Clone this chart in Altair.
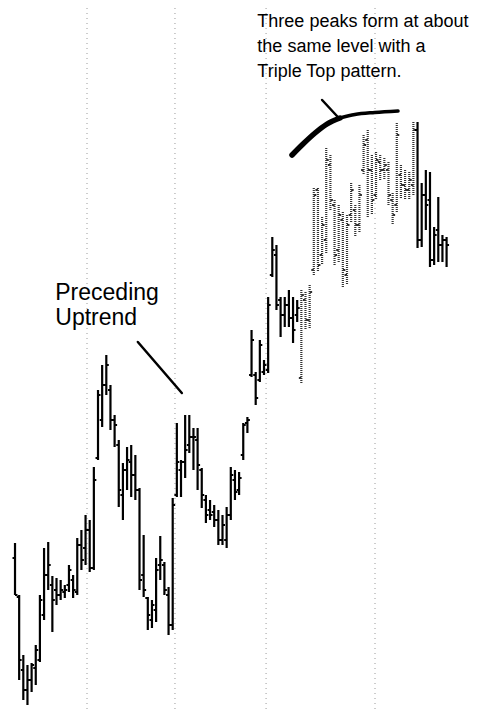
import altair as alt
import pandas as pd

# ---- OHLC values (one bar per trading day) ----
high = [17.7, 12.5, 6.5, 5.5, 5.7, 7.5, 12.5, 17.2, 17.8, 14.4,
        14.2, 14.0, 13.5, 15.5, 14.5, 18.2, 19.0, 20.5, 20.0, 25.3,
        33.0, 35.5, 36.5, 33.5, 30.5, 28.0, 25.7, 27.3, 27.5, 26.5,
        23.2, 18.5, 12.3, 12.0, 16.2, 18.4, 15.8, 13.3, 22.2, 29.7,
        26.0, 30.5, 30.5, 29.2, 29.2, 25.2, 22.5, 22.0, 21.5, 21.0,
        20.5, 21.3, 25.3, 25.0, 24.8, 29.7, 30.3, 39.0, 34.8, 38.0,
        36.0, 42.3, 48.3, 47.5, 42.3, 42.3, 43.0, 42.3, 42.0, 43.0,
        42.8, 43.5, 53.2, 53.2, 50.3, 57.2, 56.5, 52.0, 51.5, 50.8,
        50.5, 53.7, 51.5, 53.5, 58.5, 59.0, 56.5, 56.8, 56.5, 56.2,
        55.8, 52.7, 59.7, 55.5, 55.0, 54.8, 59.8, 59.8, 53.7, 55.0,
        54.8, 49.3, 52.3, 48.5, 48.3]
low = [12.5, 4.0, 2.0, 1.5, 2.8, 3.5, 5.8, 10.0, 13.0, 8.8,
       11.5, 12.0, 12.2, 12.8, 12.2, 12.5, 15.0, 15.5, 14.8, 15.0,
       26.0, 29.3, 32.5, 29.0, 27.3, 21.3, 20.0, 23.0, 22.3, 22.0,
       13.0, 12.3, 9.0, 9.2, 9.8, 14.0, 12.5, 8.5, 9.0, 22.3,
       22.3, 24.2, 26.7, 25.0, 23.0, 21.2, 19.7, 20.0, 19.3, 17.5,
       17.5, 17.2, 20.0, 22.0, 22.5, 26.0, 28.7, 34.3, 31.5, 33.8,
       34.5, 34.7, 44.3, 41.0, 38.3, 39.3, 39.3, 37.7, 39.8, 33.7,
       39.0, 39.2, 44.5, 44.8, 45.5, 46.7, 51.0, 45.5, 45.8, 43.3,
       43.5, 49.8, 48.3, 48.8, 54.5, 50.2, 50.5, 52.0, 54.0, 54.0,
       51.5, 49.5, 50.8, 52.2, 52.0, 52.0, 52.5, 47.2, 47.3, 49.0,
       45.3, 45.5, 45.8, 45.8, 45.3]
opens = [16.2, 12.3, 5.0, 3.0, 4.0, 5.2, 6.0, 10.5, 14.5, 13.5,
         13.0, 12.5, 12.8, 13.5, 14.0, 12.8, 17.5, 17.2, 19.0, 15.2,
         26.2, 30.0, 33.5, 33.0, 30.0, 27.5, 22.5, 25.0, 25.8, 24.5,
         23.0, 14.5, 12.2, 10.0, 11.0, 15.5, 15.5, 12.5, 9.5, 22.5,
         25.0, 25.8, 27.5, 28.3, 28.0, 25.0, 22.0, 21.0, 20.8, 20.0,
         18.0, 18.0, 20.5, 24.0, 23.0, 26.5, 29.7, 34.5, 34.5, 34.0,
         34.8, 35.0, 44.5, 46.5, 42.0, 40.5, 41.5, 40.2, 40.5, 34.2,
         42.0, 40.0, 45.0, 53.0, 46.5, 48.0, 55.5, 51.5, 47.0, 50.0,
         44.5, 50.5, 51.0, 49.5, 55.0, 58.0, 55.0, 52.5, 55.8, 55.0,
         55.0, 52.0, 51.5, 54.5, 53.5, 53.0, 53.5, 59.0, 48.0, 52.5,
         52.0, 46.0, 49.0, 47.5, 48.0]
closes = [12.5, 6.0, 3.0, 4.0, 5.5, 7.0, 12.0, 14.5, 15.5, 12.0,
          12.5, 13.0, 13.0, 15.0, 13.0, 17.5, 16.0, 19.0, 15.2, 24.0,
          32.5, 33.5, 35.5, 30.0, 29.5, 23.0, 25.0, 26.0, 24.5, 23.0,
          14.0, 13.0, 10.5, 11.5, 15.0, 16.0, 13.0, 9.5, 21.5, 25.8,
          25.8, 27.0, 28.3, 28.3, 25.5, 22.5, 20.5, 20.5, 20.0, 18.0,
          19.5, 20.5, 24.5, 22.8, 24.2, 29.5, 30.0, 38.0, 32.2, 37.5,
          35.5, 41.5, 47.0, 41.5, 40.5, 41.5, 40.2, 39.0, 41.2, 42.5,
          40.0, 42.8, 52.5, 45.5, 49.5, 56.0, 52.0, 46.5, 50.5, 45.0,
          49.5, 53.0, 49.5, 52.5, 57.5, 55.0, 52.0, 56.0, 55.0, 55.5,
          52.5, 50.5, 58.5, 53.5, 53.0, 54.0, 59.0, 48.0, 52.5, 51.5,
          46.0, 48.5, 47.5, 48.0, 47.5]
# bars drawn in the lighter (dithered) tone
light_first, light_last = 69, 96

# month separators (bar index positions)
grid_x = [17.35, 38.55, 60.5, 86.75]

# annotation pointers (bar index, price)
uptrend_ptr_x = [29.6, 40.2]
uptrend_ptr_y = [37.8, 32.7]
top_curve_a_x = [66.75, 69.4, 72.3, 75.2, 78.3]
top_curve_a_y = [56.5, 57.6, 58.7, 59.6, 60.2]
top_curve_b_x = [78.3, 81.9, 86.7, 92.3]
top_curve_b_y = [60.2, 60.55, 60.75, 60.9]
top_ptr_x = [74.0, 77.8]
top_ptr_y = [62.0, 60.3]

top_text = ["Three peaks form at about", "the same level with a", "Triple Top pattern."]
top_text_x = 58.4
top_text_y = [69.3, 66.8, 64.3]
left_text = ["Preceding", "Uptrend"]
left_text_x = 9.7
left_text_y = [42.0, 39.5]

# ---- tables ----
n = len(high)
df = pd.DataFrame({"i": list(range(n)), "high": high, "low": low,
                   "open": opens, "close": closes})
df["shade"] = ["light" if light_first <= k <= light_last else "dark" for k in range(n)]
df["ol"] = df["i"] - 0.6
df["cr"] = df["i"] + 0.6

xs = alt.Scale(domain=[-1.69, 111.33], nice=False, zero=False)
ys = alt.Scale(domain=[1.0, 71.2], nice=False, zero=False)

W, H = 469, 702


def bar_layers(sub, color, dash, width):
    base = alt.Chart(sub)
    kw = dict(color=color, strokeWidth=width)
    if dash:
        kw["strokeDash"] = dash
    v = base.mark_rule(**kw).encode(
        x=alt.X("i:Q", scale=xs, axis=None),
        y=alt.Y("high:Q", scale=ys, axis=None),
        y2="low:Q")
    o = base.mark_rule(color=color, strokeWidth=2).encode(
        x=alt.X("ol:Q", scale=xs, axis=None), x2="i:Q",
        y=alt.Y("open:Q", scale=ys, axis=None))
    c = base.mark_rule(color=color, strokeWidth=2).encode(
        x=alt.X("i:Q", scale=xs, axis=None), x2="cr:Q",
        y=alt.Y("close:Q", scale=ys, axis=None))
    return [v, o, c]


grid = alt.Chart(pd.DataFrame({"g": grid_x})).mark_rule(
    color="#9a9a9a", strokeWidth=1, strokeDash=[1, 4]).encode(
    x=alt.X("g:Q", scale=xs, axis=None))

dark = bar_layers(df[df.shade == "dark"], "#000000", None, 2.2)
light = bar_layers(df[df.shade == "light"], "#333333", [1, 1], 2.2)


def line(xv, yv, w):
    return alt.Chart(pd.DataFrame({"x": xv, "y": yv, "o": list(range(len(xv)))})).mark_line(
        color="#000000", strokeWidth=w, strokeCap="round", interpolate="monotone").encode(
        x=alt.X("x:Q", scale=xs, axis=None),
        y=alt.Y("y:Q", scale=ys, axis=None),
        order="o:Q")


ann1 = line(uptrend_ptr_x, uptrend_ptr_y, 2.5)
ann2a = line(top_curve_a_x, top_curve_a_y, 5.5)
ann2b = line(top_curve_b_x, top_curve_b_y, 3.5)
ann3 = line(top_ptr_x, top_ptr_y, 2.5)

t1 = alt.Chart(pd.DataFrame({"t": top_text, "x": [top_text_x] * 3, "y": top_text_y})).mark_text(
    align="left", baseline="alphabetic", font="Liberation Sans", fontSize=18, color="#000000").encode(
    x=alt.X("x:Q", scale=xs, axis=None), y=alt.Y("y:Q", scale=ys, axis=None), text="t:N")
t2 = alt.Chart(pd.DataFrame({"t": left_text, "x": [left_text_x] * 2, "y": left_text_y})).mark_text(
    align="left", baseline="alphabetic", font="Liberation Sans", fontSize=23, color="#000000").encode(
    x=alt.X("x:Q", scale=xs, axis=None), y=alt.Y("y:Q", scale=ys, axis=None), text="t:N")

chart = alt.layer(grid, *light, *dark, ann1, ann2a, ann2b, ann3, t1, t2).properties(
    width=W, height=H, autosize=alt.AutoSizeParams(type="none"), padding=0,
    background="white").configure_view(stroke=None)

chart.save("out.html", embed_options={"renderer": "svg", "actions": False})
